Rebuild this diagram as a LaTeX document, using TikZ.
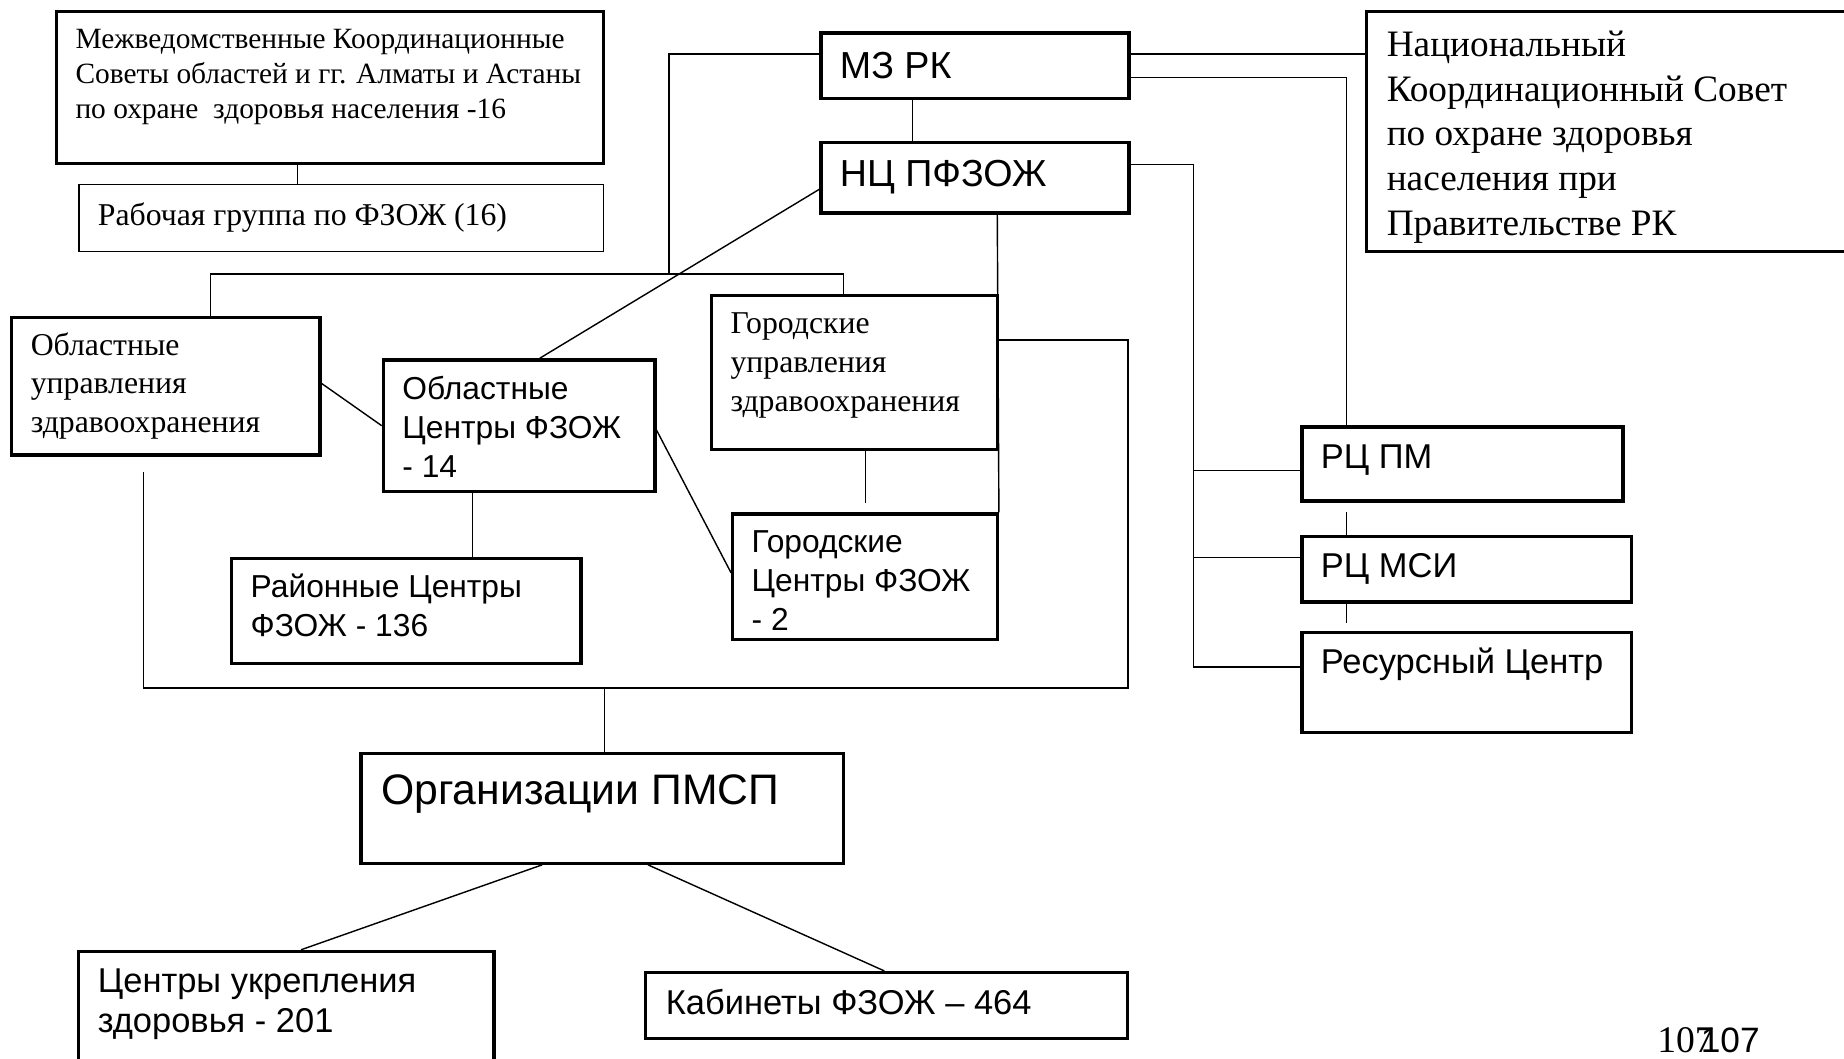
\documentclass[tikz,border=0pt]{standalone}
\usepackage{fontspec}
\setmainfont{Liberation Serif}
\setsansfont{Liberation Sans}
\usetikzlibrary{fit}
\newcommand{\mlines}[1]{\begin{tabular}[t]{@{}l@{}}#1\end{tabular}}
\begin{document}
\begin{tikzpicture}[x=1pt,y=-1pt,
  thickbox/.style={draw, line width=2.8pt, inner sep=0pt},
  thinbox/.style={draw, line width=1.3pt, inner sep=0pt},
  link/.style={line width=1.2pt},
  txt/.style={anchor=base west, inner sep=0pt},
  serifsm/.style={txt, font=\fontsize{25}{30}\selectfont},
  serifmid/.style={txt, font=\fontsize{27}{33}\selectfont},
  seriflg/.style={txt, font=\fontsize{31.7}{38}\selectfont},
  sansmd/.style={txt, font=\sffamily\fontsize{27}{33}\selectfont},
  sansrc/.style={txt, font=\sffamily\fontsize{29.3}{34}\selectfont},
  sansbig/.style={txt, font=\sffamily\fontsize{32}{36}\selectfont},
  sanshuge/.style={txt, font=\sffamily\fontsize{36.3}{40}\selectfont}]
\useasboundingbox (0,0) rectangle (1568,900);
% boxes
\node[thickbox, fit={(48,10) (513,139)}] (mkc) {};
\node[thinbox, fit={(67,157) (513,214)}] (rg) {};
\node[thickbox, fit={(698,28) (960,84)}] (mz) {};
\node[thickbox, fit={(698,121) (960,181)}] (nc) {};
\node[thickbox, fit={(1162,10) (1574,214)}] (nat) {};
\node[thickbox, fit={(10,270) (272,387)}] (oblupr) {};
\node[thickbox, fit={(326,306) (557,418)}] (oblc) {};
\node[thickbox, fit={(605,251) (848,382)}] (gorupr) {};
\node[thickbox, fit={(623,437) (848,544)}] (gorc) {};
\node[thickbox, fit={(197,475) (494,564)}] (ray) {};
\node[thickbox, fit={(1107,363) (1380,426)}] (pm) {};
\node[thickbox, fit={(1107,456) (1387,512)}] (msi) {};
\node[thickbox, fit={(1107,538) (1387,623)}] (res) {};
\node[thickbox, fit={(307,641) (717,734)}] (pmsp) {};
\node[thickbox, fit={(67,809) (420,906)}] (ukr) {};
\node[thickbox, fit={(549,827) (959,883)}] (kab) {};
% texts
\node[serifsm] (tmkc) at (64,41) {\mlines{Межведомственные Координационные\\Советы областей и гг. Алматы и Астаны\\по охране\ \ здоровья населения -16}};
\node[txt, font=\fontsize{27}{30}\selectfont] (trg) at (83,192) {Рабочая группа по ФЗОЖ (16)};
\node[sansbig] (tmz) at (714,67) {МЗ РК};
\node[sansbig] (tnc) at (714,159) {НЦ ПФЗОЖ};
\node[seriflg] (tnat) at (1179,48) {\mlines{Национальный\\Координационный Совет\\по охране здоровья\\населения при\\Правительстве РК}};
\node[serifmid] (toblupr) at (26,302) {\mlines{Областные\\управления\\здравоохранения}};
\node[sansmd] (toblc) at (342,340) {\mlines{Областные\\Центры ФЗОЖ\\- 14}};
\node[serifmid] (tgorupr) at (621,284) {\mlines{Городские\\управления\\здравоохранения}};
\node[sansmd] (tgorc) at (639,470) {\mlines{Городские\\Центры ФЗОЖ\\- 2}};
\node[sansmd] (tray) at (213,508) {\mlines{Районные Центры\\ФЗОЖ - 136}};
\node[sansrc] (tpm) at (1123,398) {РЦ ПМ};
\node[sansrc] (tmsi) at (1123,491) {РЦ МСИ};
\node[sansrc] (tres) at (1123,573) {Ресурсный Центр};
\node[sanshuge] (tpmsp) at (324,684) {Организации ПМСП};
\node[sansrc] (tukr) at (83,844) {\mlines{Центры укрепления\\здоровья - 201}};
\node[sansrc] (tkab) at (566,863) {Кабинеты ФЗОЖ – 464};
\node[txt, font=\fontsize{32}{32}\selectfont] (pg1) at (1409,895) {107};
\node[txt, font=\sffamily\fontsize{30}{30}\selectfont] (pg2) at (1446,895) {107};
% connectors
\draw[link] (mkc.south -| 253,0) -- (rg.north -| 253,0);
\draw[link] (mz.south -| 776,0) -- (nc.north -| 776,0);
\draw[link] (mz.east |- 0,46) -- (nat.west |- 0,46);
\draw[link] (mz.east |- 0,66) -- (1145,66) -- (pm.north -| 1145,0);
\draw[link] (mz.west |- 0,46) -- (569,46) -- (569,233);
\draw[link] (oblupr.north -| 179,0) -- (179,233) -- (717,233) -- (gorupr.north -| 717,0);
\draw[link] (nc.west |- 0,161) -- (oblc.north -| 459,0);
\draw[link] (nc.east |- 0,140) -- (1015,140) -- (1015,567) -- (res.west |- 0,567);
\draw[link] (1015,400) -- (pm.west |- 0,400);
\draw[link] (1015,474) -- (msi.west |- 0,474);
\draw[link] (nc.south -| 848,0) -- (gorc.north east);
\coordinate (busl) at (122,401);
\draw[link] (gorupr.east |- 0,289) -- (959,289) -- (959,585) -- (122,585) -- (busl);
\draw[link] (514,585) -- (pmsp.north -| 514,0);
\draw[link] (oblupr.east |- 0,326) -- (oblc.west |- 0,362);
\coordinate (gend) at (736,428);
\draw[link] (gorupr.south -| 736,0) -- (gend);
\draw[link] (oblc.east |- 0,366) -- (gorc.west |- 0,487);
\draw[link] (oblc.south -| 402,0) -- (ray.north -| 402,0);
\coordinate (pmgap) at (1145,435);
\draw[link] (pmgap) -- (msi.north -| 1145,0);
\coordinate (msigap) at (1145,530);
\draw[link] (msi.south -| 1145,0) -- (msigap);
\draw[link] (pmsp.south -| 461,0) -- (ukr.north -| 256,0);
\draw[link] (pmsp.south -| 551,0) -- (kab.north -| 752,0);
\end{tikzpicture}
\end{document}
